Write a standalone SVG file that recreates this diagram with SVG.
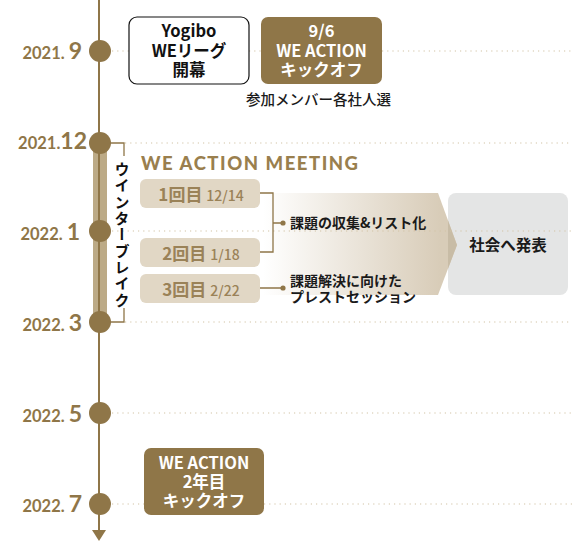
<svg xmlns="http://www.w3.org/2000/svg" width="572" height="542" viewBox="0 0 572 542">
<defs>
<style>
.dot{stroke:#d2c4a6;stroke-width:1.2;stroke-dasharray:1.2 4;fill:none}
.br{stroke:#8f7648;stroke-width:1.3;fill:none}
.date{font-family:Lato,"Noto Sans",sans-serif;font-weight:700;fill:#8f7648;text-anchor:end}
.ds{font-size:16.5px}
.dl{font-size:23px}
.jp{font-family:"Noto Sans CJK JP",sans-serif;font-weight:700}
.wt{fill:#fff;font-size:16.5px;text-anchor:middle}
.bk{fill:#111;font-size:16.5px;text-anchor:middle}
.pill{fill:#e1d7c5}
.pt{fill:#9a8258;text-anchor:middle}
.lab{fill:#1a1a1a;font-size:14px}
.node{fill:#8f7648}
</style>
<linearGradient id="g" gradientUnits="userSpaceOnUse" x1="263" y1="0" x2="440" y2="0">
<stop offset="0" stop-color="#ffffff"/>
<stop offset="1" stop-color="#d8ccb8"/>
</linearGradient>
</defs>
<rect width="572" height="542" fill="#fff"/>

<g id="break-bar">
<rect x="93" y="143" width="14" height="179" fill="#bcaa86"/>
</g>
<g id="flow-arrow">
<rect x="448" y="193" width="120" height="102" rx="8" fill="#e4e5e5"/>
<polygon points="263,193 438,193 457,245 438,295 263,295" fill="url(#g)"/>
<polygon points="448,220.4 457,245 448,268.7" fill="#c8bca6"/>
</g>

<g id="connectors">
<line x1="99" y1="0" x2="99" y2="531" stroke="#8f7648" stroke-width="2"/>
<polygon points="92,530 106,530 99,541" fill="#8f7648"/>
<path class="dot" d="M112,51H129M249,51H261M382,51H572"/>
<path class="dot" d="M125,143H572"/>
<path class="dot" d="M112,231H572"/>
<path class="dot" d="M125,322H572"/>
<path class="dot" d="M112,413H572"/>
<path class="dot" d="M112,504H144M264,504H572"/>
<path class="br" d="M110,143H124V156M124,308V322H110"/>
<path class="br" d="M260,193H273V252H260M273,223H283M260,288H283"/>
<circle cx="283" cy="223" r="2.6" fill="#8f7648"/>
<circle cx="283" cy="288" r="2.6" fill="#8f7648"/>
</g>

<g id="d2021-9"><circle class="node" cx="100" cy="51" r="11"/><text class="date" x="82" y="59"><tspan class="ds">2021. </tspan><tspan class="dl">9</tspan></text></g>
<g id="d2021-12"><circle class="node" cx="100" cy="143" r="11"/><text class="date" x="87" y="149"><tspan class="ds">2021.</tspan><tspan class="dl">12</tspan></text></g>
<g id="d2022-1"><circle class="node" cx="100" cy="231" r="11"/><text class="date" x="80" y="240"><tspan class="ds">2022. </tspan><tspan class="dl">1</tspan></text></g>
<g id="d2022-3"><circle class="node" cx="100" cy="322" r="11"/><text class="date" x="82" y="331"><tspan class="ds">2022. </tspan><tspan class="dl">3</tspan></text></g>
<g id="d2022-5"><circle class="node" cx="100" cy="413" r="11"/><text class="date" x="82" y="422"><tspan class="ds">2022. </tspan><tspan class="dl">5</tspan></text></g>
<g id="d2022-7"><circle class="node" cx="100" cy="504" r="11"/><text class="date" x="82" y="512"><tspan class="ds">2022. </tspan><tspan class="dl">7</tspan></text></g>

<g id="yogibo">
<rect x="129" y="17" width="120" height="67" rx="8" fill="#fff" stroke="#111" stroke-width="1.2"/>
<text class="jp bk" x="189" y="37">Yogibo</text>
<text class="jp bk" x="189" y="57">WEリーグ</text>
<text class="jp bk" x="189" y="76">開幕</text>
</g>
<g id="kickoff1">
<rect x="261" y="17" width="121" height="67" rx="7" fill="#8f7648"/>
<text class="jp wt" x="321.5" y="37">9/6</text>
<text class="jp wt" x="321.5" y="57">WE ACTION</text>
<text class="jp wt" x="321.5" y="76">キックオフ</text>
</g>
<g id="member-note">
<text class="jp" x="246" y="105" font-size="14.5" fill="#1a1a1a" style="font-weight:500">参加メンバー各社人選</text>
</g>

<g id="winter-break">
<text class="jp" x="122" y="162" font-size="15" fill="#111" style="writing-mode:vertical-rl;letter-spacing:1.3px">ウインターブレイク</text>
</g>

<g id="meeting-title">
<text x="141" y="170" font-family="Lato,sans-serif" font-weight="900" font-size="18.5" fill="#9a7f4e" textLength="217" lengthAdjust="spacing">WE ACTION MEETING</text>
</g>

<g id="m1">
<rect class="pill" x="140" y="179" width="120" height="29" rx="6"/>
<text class="jp pt" x="201" y="201"><tspan font-size="17">1回目 </tspan><tspan font-size="14" font-weight="500">12/14</tspan></text>
</g>
<g id="m2">
<rect class="pill" x="140" y="238" width="120" height="29" rx="6"/>
<text class="jp pt" x="201" y="260"><tspan font-size="17">2回目 </tspan><tspan font-size="14" font-weight="500">1/18</tspan></text>
</g>
<g id="m3">
<rect class="pill" x="140" y="274" width="120" height="29" rx="6"/>
<text class="jp pt" x="201" y="296"><tspan font-size="17">3回目 </tspan><tspan font-size="14" font-weight="500">2/22</tspan></text>
</g>

<g id="collect">
<text class="jp lab" x="290" y="228">課題の収集&amp;リスト化</text>
</g>
<g id="session">
<text class="jp lab" x="290" y="286">課題解決に向けた</text>
<text class="jp lab" x="290" y="302">プレストセッション</text>
</g>
<g id="announce">
<text class="jp" x="508" y="251" font-size="15.5" fill="#1a1a1a" text-anchor="middle">社会へ発表</text>
</g>

<g id="kickoff2">
<rect x="144" y="448" width="120" height="67" rx="7" fill="#8f7648"/>
<text class="jp wt" x="204" y="469">WE ACTION</text>
<text class="jp wt" x="204" y="488">2年目</text>
<text class="jp wt" x="204" y="507">キックオフ</text>
</g>
</svg>
